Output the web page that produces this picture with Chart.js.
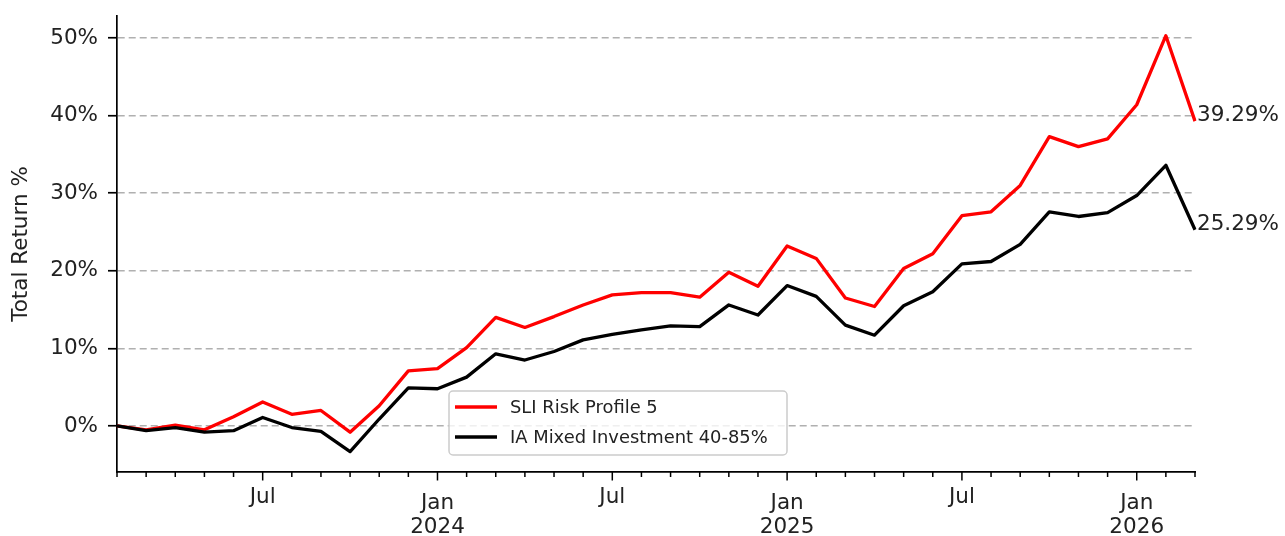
<!DOCTYPE html>
<html>
<head>
<meta charset="utf-8">
<script src="https://cdn.jsdelivr.net/npm/chart.js@4.4.0/dist/chart.umd.min.js"></script>
<style>
  html, body { margin: 0; padding: 0; background: #fff; }
  #wrap { width: 1285px; height: 536px; }
</style>
</head>
<body>
<div id="wrap"><canvas id="returnChart" width="1285" height="536"></canvas></div>
<script>
// Monthly total return, Feb 2023 - Mar 2026
const months = [
    '2023-02', '2023-03', '2023-04', '2023-05', '2023-06', '2023-07', '2023-08', '2023-09', '2023-10', '2023-11', '2023-12',
    '2024-01', '2024-02', '2024-03', '2024-04', '2024-05', '2024-06', '2024-07', '2024-08', '2024-09', '2024-10', '2024-11', '2024-12',
    '2025-01', '2025-02', '2025-03', '2025-04', '2025-05', '2025-06', '2025-07', '2025-08', '2025-09', '2025-10', '2025-11', '2025-12',
    '2026-01', '2026-02', '2026-03'
];
const sliRiskProfile5 = [
    0.0, -0.5, 0.1, -0.5, 1.2, 3.1, 1.5, 2.0, -0.8, 2.6, 7.1,
    7.4, 10.1, 14.0, 12.7, 14.1, 15.6, 16.9, 17.2, 17.2, 16.6, 19.8, 18.0,
    23.2, 21.6, 16.5, 15.4, 20.3, 22.2, 27.1, 27.6, 31.0, 37.3, 36.0, 37.0,
    41.4, 50.3, 39.29
];
const iaMixed4085 = [
    0.0, -0.6, -0.2, -0.8, -0.6, 1.1, -0.2, -0.7, -3.3, 0.9, 4.9,
    4.8, 6.3, 9.3, 8.5, 9.6, 11.1, 11.8, 12.4, 12.9, 12.8, 15.6, 14.3,
    18.1, 16.7, 13.0, 11.7, 15.5, 17.3, 20.9, 21.2, 23.4, 27.6, 27.0, 27.5,
    29.7, 33.6, 25.29
];
const seriesNames = ['SLI Risk Profile 5', 'IA Mixed Investment 40-85%'];
const seriesColors = ['#ff0000', '#000000'];

// Axis ticks
const majorTickMonths = ['2023-07', '2024-01', '2024-07', '2025-01', '2025-07', '2026-01'];
const majorTickLabels = [['Jul'], ['Jan', '2024'], ['Jul'], ['Jan', '2025'], ['Jul'], ['Jan', '2026']];
const yTicks = [0, 10, 20, 30, 40, 50];
const yMin = -5.93;
const yMax = 52.84;

const FONT = "'DejaVu Sans', sans-serif";
const TEXT = '#222222';

// month tick marks: long for Jan/Jul, short for the rest
const monthTicksPlugin = {
    id: 'monthTicks',
    afterDraw(chart) {
        const xs = chart.scales.x;
        const ctx = chart.ctx;
        ctx.save();
        ctx.strokeStyle = '#000';
        ctx.lineWidth = 1.5;
        xs.ticks.forEach((t, i) => {
            const px = xs.getPixelForTick(i);
            const len = majorTickMonths.includes(months[i]) ? 8.5 : 5;
            ctx.beginPath();
            ctx.moveTo(px, xs.top);
            ctx.lineTo(px, xs.top + len);
            ctx.stroke();
        });
        ctx.restore();
    }
};

// final value text next to the last point of each line
const endLabelPlugin = {
    id: 'endLabels',
    afterDatasetsDraw(chart) {
        const ctx = chart.ctx;
        ctx.save();
        ctx.font = '21.5px ' + FONT;
        ctx.fillStyle = TEXT;
        ctx.textAlign = 'left';
        ctx.textBaseline = 'alphabetic';
        chart.data.datasets.forEach((ds, i) => {
            const meta = chart.getDatasetMeta(i);
            const last = meta.data[meta.data.length - 1];
            const v = ds.data[ds.data.length - 1];
            ctx.fillText(v.toFixed(2) + '%', last.x + 2, last.y);
        });
        ctx.restore();
    }
};

// legend box inside the plot, like the original
const boxLegendPlugin = {
    id: 'boxLegend',
    afterDraw(chart) {
        const ctx = chart.ctx;
        const area = chart.chartArea;
        const x = area.left + 332;
        const y = area.bottom - 81;
        const w = 338, h = 64;
        ctx.save();
        ctx.beginPath();
        ctx.roundRect(x, y, w, h, 4);
        ctx.fillStyle = 'rgba(255,255,255,0.8)';
        ctx.fill();
        ctx.strokeStyle = '#cccccc';
        ctx.lineWidth = 1.5;
        ctx.stroke();

        ctx.font = '17.9px ' + FONT;
        ctx.textBaseline = 'middle';
        ctx.textAlign = 'left';
        seriesNames.forEach((name, i) => {
            const ly = y + 16 + i * 30;
            ctx.strokeStyle = seriesColors[i];
            ctx.lineWidth = 3.3;
            ctx.beginPath();
            ctx.moveTo(x + 6, ly);
            ctx.lineTo(x + 48, ly);
            ctx.stroke();
            ctx.fillStyle = TEXT;
            ctx.fillText(name, x + 61, ly + 1);
        });
        ctx.restore();
    }
};

const ctx = document.getElementById('returnChart').getContext('2d');
new Chart(ctx, {
    type: 'line',
    data: {
        labels: months,
        datasets: [{
            label: seriesNames[0],
            data: sliRiskProfile5,
            borderColor: seriesColors[0],
            borderWidth: 3.3,
            pointRadius: 0,
            tension: 0,
            fill: false,
            borderJoinStyle: 'round',
            order: 1
        }, {
            label: seriesNames[1],
            data: iaMixed4085,
            borderColor: seriesColors[1],
            borderWidth: 3.3,
            pointRadius: 0,
            tension: 0,
            fill: false,
            borderJoinStyle: 'round',
            order: 0
        }]
    },
    options: {
        responsive: false,
        devicePixelRatio: 1,
        animation: false,
        layout: { padding: { top: 16, right: 90, bottom: 0, left: 0 } },
        plugins: {
            legend: { display: false },
            tooltip: { enabled: false }
        },
        scales: {
            x: {
                type: 'category',
                offset: false,
                afterFit: function(scale) {
                    scale.height = 64;
                    scale.paddingLeft = 0;
                    scale.paddingRight = 0;
                },
                grid: { display: true, drawOnChartArea: false, drawTicks: false },
                border: { display: true, color: '#000', width: 1.7 },
                ticks: {
                    autoSkip: false,
                    maxRotation: 0,
                    padding: 19,
                    color: TEXT,
                    font: function(c) {
                        const lab = majorTickLabels[majorTickMonths.indexOf(months[c.index])];
                        const two = lab && lab.length > 1;
                        return { family: FONT, size: 21.5, lineHeight: two ? '24px' : '12px' };
                    },
                    callback: function(value, index) {
                        const k = majorTickMonths.indexOf(months[index]);
                        return k >= 0 ? majorTickLabels[k] : '';
                    }
                }
            },
            y: {
                min: yMin,
                max: yMax,
                afterFit: function(scale) {
                    scale.width = 117;
                    // let the layout padding alone decide the plot top
                    scale.paddingTop = 0;
                    scale.paddingBottom = 0;
                },
                afterBuildTicks: function(scale) {
                    scale.ticks = yTicks.map(v => ({ value: v }));
                },
                grid: {
                    color: '#b0b0b0',
                    lineWidth: 1.5,
                    drawTicks: true,
                    tickLength: 9,
                    tickColor: '#000',
                    tickWidth: 1.7
                },
                border: { display: true, color: '#000', width: 1.7, dash: [7, 4] },
                ticks: {
                    padding: 10,
                    color: TEXT,
                    font: { family: FONT, size: 21.5 },
                    callback: function(v) { return v + '%'; }
                },
                title: {
                    display: true,
                    text: 'Total Return %',
                    color: TEXT,
                    font: { family: FONT, size: 21.5 },
                    padding: { top: 9, bottom: 0 }
                }
            }
        }
    },
    plugins: [monthTicksPlugin, endLabelPlugin, boxLegendPlugin]
});
</script>
</body>
</html>
